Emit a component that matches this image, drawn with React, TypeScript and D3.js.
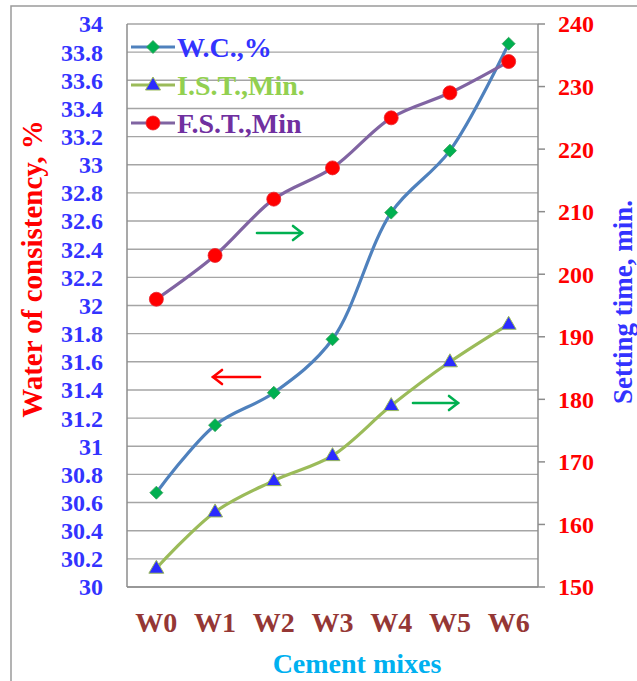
import React from "react";
import * as d3 from "d3";

const categories = ["W0", "W1", "W2", "W3", "W4", "W5", "W6"];
const wcValues = [30.67, 31.15, 31.38, 31.76, 32.66, 33.1, 33.86];
const istValues = [153, 162, 167, 171, 179, 186, 192];
const fstValues = [196, 203, 212, 217, 225, 229, 234];
const leftTicks = d3.range(0, 21).map((i) => +(30 + i * 0.2).toFixed(1));
const rightTicks = d3.range(150, 241, 10);
const legendItems = [
  { label: "W.C.,%", line: "#4f81bd", text: "#3333ff", marker: "diamond" },
  { label: "I.S.T.,Min.", line: "#9bbb59", text: "#92d050", marker: "triangle" },
  { label: "F.S.T.,Min", line: "#8064a2", text: "#7030a0", marker: "circle" },
];

const W = 637, H = 681;
const plot = { left: 127, right: 538, top: 24, bottom: 587 };
const FONT = "'Liberation Serif', 'Times New Roman', serif";

function Marker({ kind, x, y }: { kind: string; x: number; y: number }) {
  if (kind === "diamond") {
    const s = 6.5;
    return (
      <path
        d={`M${x},${y - s}L${x + s},${y}L${x},${y + s}L${x - s},${y}Z`}
        fill="#00b050"
        stroke="#2e9e55"
        strokeWidth={0.8}
      />
    );
  }
  if (kind === "triangle") {
    return (
      <path
        d={`M${x},${y - 8}L${x + 7.5},${y + 5}L${x - 7.5},${y + 5}Z`}
        fill="#2b2bff"
        stroke="#9bbb59"
        strokeWidth={1}
      />
    );
  }
  return <circle cx={x} cy={y} r={7} fill="#ff0000" stroke="#e8242f" strokeWidth={0.8} />;
}

function Arrow({ x1, x2, y, color }: { x1: number; x2: number; y: number; color: string }) {
  const dir = x2 > x1 ? 1 : -1;
  return (
    <g stroke={color} strokeWidth={2.6} fill="none" strokeLinecap="round">
      <line x1={x1} y1={y} x2={x2} y2={y} />
      <path d={`M${x2 - dir * 9},${y - 7}L${x2},${y}L${x2 - dir * 9},${y + 7}`} />
    </g>
  );
}

export default function App() {
  const x = d3.scaleBand<string>().domain(categories).range([plot.left, plot.right]);
  const cx = (c: string) => (x(c) as number) + x.bandwidth() / 2;
  const yL = d3.scaleLinear().domain([30, 34]).range([plot.bottom, plot.top]);
  const yR = d3.scaleLinear().domain([150, 240]).range([plot.bottom, plot.top]);
  const curve = d3.curveCatmullRom.alpha(0.5);

  const series = [
    { vals: wcValues, y: yL, line: "#4f81bd", marker: "diamond" },
    { vals: istValues, y: yR, line: "#9bbb59", marker: "triangle" },
    { vals: fstValues, y: yR, line: "#8064a2", marker: "circle" },
  ];

  return (
    <svg
      width={W}
      height={H}
      style={{ position: "absolute", left: 0, top: 0, background: "#fff" }}
      fontFamily={FONT}
    >
      <rect x={0} y={0} width={W} height={H} fill="#fff" />
      <rect x={11} y={6} width={W + 50} height={H + 50} fill="none" stroke="#9a9a9a" strokeWidth={1.5} />

      {/* gridlines */}
      {leftTicks.map((t) => (
        <line key={t} x1={plot.left} x2={plot.right} y1={yL(t)} y2={yL(t)} stroke="#a5a5a5" strokeWidth={1.4} />
      ))}
      {/* axes */}
      <line x1={plot.left} x2={plot.left} y1={plot.top} y2={plot.bottom} stroke="#8c8c8c" strokeWidth={1.5} />
      <line x1={plot.right} x2={plot.right} y1={plot.top} y2={plot.bottom} stroke="#8c8c8c" strokeWidth={1.5} />
      <line x1={plot.left} x2={plot.right} y1={plot.bottom} y2={plot.bottom} stroke="#8c8c8c" strokeWidth={1.5} />
      {rightTicks.map((t) => (
        <line key={t} x1={plot.right} x2={plot.right + 7} y1={yR(t)} y2={yR(t)} stroke="#8c8c8c" strokeWidth={1.5} />
      ))}

      {/* left tick labels */}
      {leftTicks.map((t) => (
        <text
          key={t}
          x={103}
          y={yL(t)}
          dy="0.35em"
          textAnchor="end"
          fontSize={24}
          fontWeight="bold"
          fill="#3333ff"
        >
          {d3.format("~g")(t)}
        </text>
      ))}
      {/* right tick labels */}
      {rightTicks.map((t) => (
        <text key={t} x={558} y={yR(t)} dy="0.35em" fontSize={24} fontWeight="bold" fill="#ff0000">
          {t}
        </text>
      ))}
      {/* x labels */}
      {categories.map((c) => (
        <text key={c} x={cx(c)} y={632} textAnchor="middle" fontSize={28} fontWeight="bold" fill="#953735">
          {c}
        </text>
      ))}
      <text x={357} y={673} textAnchor="middle" fontSize={28} fontWeight="bold" fill="#00b0f0">
        Cement mixes
      </text>
      <text
        transform="translate(42,269) rotate(-90)"
        textAnchor="middle"
        fontSize={29}
        fontWeight="bold"
        fill="#ff0000"
      >
        Water of consistency, %
      </text>
      <text
        transform="translate(632,302) rotate(-90)"
        textAnchor="middle"
        fontSize={27}
        fontWeight="bold"
        fill="#3333ff"
      >
        Setting time, min.
      </text>

      {/* series */}
      {series.map((s, i) => {
        const line = d3
          .line<number>()
          .x((_, j) => cx(categories[j]))
          .y((v) => s.y(v))
          .curve(curve);
        return <path key={i} d={line(s.vals) || ""} fill="none" stroke={s.line} strokeWidth={3.2} />;
      })}
      {series.map((s, i) => (
        <g key={"m" + i}>
          {s.vals.map((v, j) => (
            <Marker key={j} kind={s.marker} x={cx(categories[j])} y={s.y(v)} />
          ))}
        </g>
      ))}

      {/* arrows */}
      <Arrow x1={257} x2={302} y={233} color="#00b050" />
      <Arrow x1={260} x2={213} y={377} color="#ff0000" />
      <Arrow x1={413} x2={458} y={403} color="#00b050" />

      {/* legend */}
      {legendItems.map((it, i) => {
        const y = 47 + i * 38;
        return (
          <g key={it.label}>
            <line x1={131} x2={175} y1={y} y2={y} stroke={it.line} strokeWidth={3.2} />
            <Marker kind={it.marker} x={153} y={y} />
            <text x={177} y={y} dy="0.35em" fontSize={28} fontWeight="bold" fill={it.text}>
              {it.label}
            </text>
          </g>
        );
      })}
    </svg>
  );
}
